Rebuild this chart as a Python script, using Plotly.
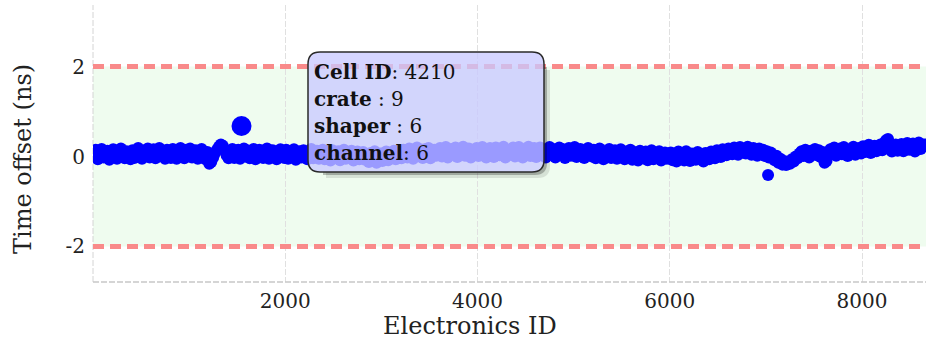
import plotly.graph_objects as go

# ---- data -------------------------------------------------------------
electronics_id = [
    10, 30, 50, 70, 90, 110, 130, 150, 170, 190, 210, 230, 250, 270, 290, 310, 330, 350, 370, 390,
    410, 430, 450, 470, 490, 510, 530, 550, 570, 590, 610, 630, 650, 670, 690, 710, 730, 750, 770, 790,
    810, 830, 850, 870, 890, 910, 930, 950, 970, 990, 1010, 1030, 1050, 1070, 1090, 1110, 1130, 1150, 1170, 1190,
    1210, 1230, 1250, 1270, 1290, 1310, 1330, 1350, 1370, 1390, 1410, 1430, 1450, 1470, 1490, 1510, 1530, 1550, 1570, 1590,
    1610, 1630, 1650, 1670, 1690, 1710, 1730, 1750, 1770, 1790, 1810, 1830, 1850, 1870, 1890, 1910, 1930, 1950, 1970, 1990,
    2010, 2030, 2050, 2070, 2090, 2110, 2130, 2150, 2170, 2190, 2210, 2230, 2250, 2270, 2290, 2310, 2330, 2350, 2370, 2390,
    2410, 2430, 2450, 2470, 2490, 2510, 2530, 2550, 2570, 2590, 2610, 2630, 2650, 2670, 2690, 2710, 2730, 2750, 2770, 2790,
    2810, 2830, 2850, 2870, 2890, 2910, 2930, 2950, 2970, 2990, 3010, 3030, 3050, 3070, 3090, 3110, 3130, 3150, 3170, 3190,
    3210, 3230, 3250, 3270, 3290, 3310, 3330, 3350, 3370, 3390, 3410, 3430, 3450, 3470, 3490, 3510, 3530, 3550, 3570, 3590,
    3610, 3630, 3650, 3670, 3690, 3710, 3730, 3750, 3770, 3790, 3810, 3830, 3850, 3870, 3890, 3910, 3930, 3950, 3970, 3990,
    4010, 4030, 4050, 4070, 4090, 4110, 4130, 4150, 4170, 4190, 4210, 4230, 4250, 4270, 4290, 4310, 4330, 4350, 4370, 4390,
    4410, 4430, 4450, 4470, 4490, 4510, 4530, 4550, 4570, 4590, 4610, 4630, 4650, 4670, 4690, 4710, 4730, 4750, 4770, 4790,
    4810, 4830, 4850, 4870, 4890, 4910, 4930, 4950, 4970, 4990, 5010, 5030, 5050, 5070, 5090, 5110, 5130, 5150, 5170, 5190,
    5210, 5230, 5250, 5270, 5290, 5310, 5330, 5350, 5370, 5390, 5410, 5430, 5450, 5470, 5490, 5510, 5530, 5550, 5570, 5590,
    5610, 5630, 5650, 5670, 5690, 5710, 5730, 5750, 5770, 5790, 5810, 5830, 5850, 5870, 5890, 5910, 5930, 5950, 5970, 5990,
    6010, 6030, 6050, 6070, 6090, 6110, 6130, 6150, 6170, 6190, 6210, 6230, 6250, 6270, 6290, 6310, 6330, 6350, 6370, 6390,
    6410, 6430, 6450, 6470, 6490, 6510, 6530, 6550, 6570, 6590, 6610, 6630, 6650, 6670, 6690, 6710, 6730, 6750, 6770, 6790,
    6810, 6830, 6850, 6870, 6890, 6910, 6930, 6950, 6970, 6990, 7010, 7030, 7050, 7070, 7090, 7110, 7130, 7150, 7170, 7190,
    7210, 7230, 7250, 7270, 7290, 7310, 7330, 7350, 7370, 7390, 7410, 7430, 7450, 7470, 7490, 7510, 7530, 7550, 7570, 7590,
    7610, 7630, 7650, 7670, 7690, 7710, 7730, 7750, 7770, 7790, 7810, 7830, 7850, 7870, 7890, 7910, 7930, 7950, 7970, 7990,
    8010, 8030, 8050, 8070, 8090, 8110, 8130, 8150, 8170, 8190, 8210, 8230, 8250, 8270, 8290, 8310, 8330, 8350, 8370, 8390,
    8410, 8430, 8450, 8470, 8490, 8510, 8530, 8550, 8570, 8590, 8610, 8630, 8650,
]
time_offset_ns = [
    0.02, 0.15, -0.06, 0.09, 0.17, -0.02, 0.06, 0.13, -0.07, 0.04, 0.16, 0.00, -0.05, 0.11, 0.18, 0.03, -0.04, 0.12, 0.07, -0.06,
    0.14, -0.03, 0.10, 0.19, 0.01, -0.05, 0.13, 0.07, 0.18, -0.02, 0.09, 0.16, -0.04, 0.05, 0.19, 0.02, 0.12, -0.05, 0.15, 0.06,
    -0.03, 0.17, 0.08, -0.05, 0.13, 0.19, 0.02, -0.04, 0.15, 0.09, 0.18, -0.02, 0.06, 0.14, -0.05, 0.11, 0.17, 0.01, -0.06, 0.10,
    -0.16, -0.12, -0.02, 0.08, 0.15, 0.22, 0.27, 0.24, 0.14, 0.03, -0.04, 0.12, 0.17, -0.03, 0.08, 0.15, -0.05, 0.10, 0.18, 0.00,
    0.13, -0.04, 0.08, 0.17, -0.06, 0.03, 0.15, 0.10, -0.03, 0.12, 0.18, -0.05, 0.06, 0.14, 0.00, -0.06, 0.11, 0.16, 0.02, -0.03,
    0.15, -0.05, 0.09, 0.01, 0.16, -0.07, 0.05, 0.12, -0.02, 0.14, 0.07, -0.06, 0.10, 0.17, -0.04, 0.03, 0.13, -0.05, 0.08, 0.15,
    -0.06, 0.11, 0.02, -0.09, 0.14, 0.06, -0.04, 0.12, -0.08, 0.03, 0.15, -0.05, 0.09, -0.02, 0.13, -0.09, 0.05, 0.11, -0.06, 0.08,
    0.10, -0.07, 0.04, -0.12, 0.08, -0.03, 0.12, -0.14, -0.06, 0.07, -0.10, 0.02, 0.11, -0.08, 0.05, -0.04, 0.13, -0.06, 0.09, 0.01,
    -0.04, 0.15, 0.06, -0.02, 0.18, 0.09, -0.05, 0.13, 0.20, 0.01, 0.11, -0.03, 0.16, 0.07, 0.19, -0.04, 0.10, 0.15, 0.02, 0.12,
    0.19, 0.00, 0.12, 0.21, -0.02, 0.08, 0.17, 0.04, 0.20, -0.01, 0.14, 0.09, 0.22, 0.02, 0.11, 0.18, -0.02, 0.13, 0.06, 0.19,
    0.01, 0.16, 0.21, 0.05, -0.02, 0.13, 0.19, 0.08, -0.01, 0.20, 0.11, 0.03, 0.17, 0.22, -0.02, 0.09, 0.15, 0.04, 0.20, 0.00,
    0.14, 0.21, 0.03, -0.02, 0.17, 0.10, 0.22, 0.01, 0.12, 0.19, -0.01, 0.08, 0.20, 0.05, 0.15, -0.02, 0.11, 0.21, 0.04, 0.16,
    -0.02, 0.12, 0.20, 0.04, 0.16, -0.03, 0.09, 0.19, 0.02, 0.14, 0.21, -0.01, 0.07, 0.17, 0.03, -0.03, 0.13, 0.19, 0.06, 0.00,
    0.15, -0.04, 0.09, 0.18, 0.01, -0.06, 0.12, 0.06, 0.17, -0.03, 0.03, 0.14, -0.05, 0.10, 0.16, 0.00, -0.06, 0.11, 0.07, 0.15,
    -0.07, 0.10, 0.03, -0.09, 0.13, 0.05, -0.04, 0.11, -0.08, 0.02, 0.14, -0.06, 0.07, -0.02, 0.12, -0.09, 0.04, 0.09, -0.05, 0.01,
    0.09, -0.08, 0.03, -0.11, 0.11, -0.04, 0.06, -0.09, 0.12, -0.02, -0.10, 0.07, 0.00, -0.07, 0.10, -0.05, 0.04, -0.11, 0.08, -0.01,
    -0.06, 0.11, 0.02, -0.04, 0.14, 0.06, -0.01, 0.16, 0.09, 0.03, 0.18, 0.10, 0.05, 0.20, 0.13, 0.04, 0.21, 0.09, 0.17, 0.07,
    0.22, 0.11, 0.04, 0.19, 0.13, 0.02, 0.18, 0.08, 0.15, 0.01, 0.12, -0.02, 0.09, 0.04, -0.08, 0.02, -0.14, -0.05, -0.18, -0.10,
    -0.19, -0.12, -0.16, -0.06, -0.11, 0.00, -0.04, 0.07, 0.12, 0.01, 0.15, 0.06, -0.02, 0.13, 0.09, 0.17, 0.03, 0.14, -0.01, 0.10,
    -0.14, -0.10, 0.03, 0.16, 0.08, 0.20, 0.02, 0.13, 0.18, 0.05, 0.21, 0.10, 0.01, 0.16, 0.09, 0.22, 0.04, 0.14, 0.19, 0.07,
    0.23, 0.10, 0.19, 0.26, 0.08, 0.16, 0.24, 0.12, 0.21, 0.27, 0.14, 0.30, 0.36, 0.39, 0.29, 0.11, 0.22, 0.27, 0.13, 0.20,
    0.28, 0.12, 0.24, 0.30, 0.15, 0.21, 0.29, 0.11, 0.25, 0.31, 0.17, 0.23, 0.27,
]
outlier_id = [7022]
outlier_offset = [-0.41]
selected_id = [1545]
selected_offset = [0.68]

tolerance_ns = [-2, 2]
x_ticks = [2000, 4000, 6000, 8000]
y_ticks = [-2, 0, 2]
y_tick_text = ["-2", "0", "2"]

info_keys = ["Cell ID", "crate", "shaper", "channel"]
info_seps = [": ", " : ", " : ", ": "]
info_vals = ["4210", "9", "6", "6"]

assert len(electronics_id) == len(time_offset_ns)

# ---- layout geometry (pixels) -----------------------------------------
W, H = 926, 339
PL, PR, PT, PB = 93, 926, 5, 282
FONT = "DejaVu Serif"


def px(x):
    return (x - PL) / (PR - PL)


def py(y):
    return (PB - y) / (PB - PT)


def rounded_rect(x0, y0, x1, y1, r):
    return (
        f"M {px(x0 + r)},{py(y0)} L {px(x1 - r)},{py(y0)} "
        f"Q {px(x1)},{py(y0)} {px(x1)},{py(y0 + r)} "
        f"L {px(x1)},{py(y1 - r)} Q {px(x1)},{py(y1)} {px(x1 - r)},{py(y1)} "
        f"L {px(x0 + r)},{py(y1)} Q {px(x0)},{py(y1)} {px(x0)},{py(y1 - r)} "
        f"L {px(x0)},{py(y0 + r)} Q {px(x0)},{py(y0)} {px(x0 + r)},{py(y0)} Z"
    )


def shadow_l(x0, y0, x1, y1, r, d):
    return (
        f"M {px(x1)},{py(y0 + r + d)} L {px(x1 + d)},{py(y0 + r + d)} "
        f"L {px(x1 + d)},{py(y1 + d - r)} "
        f"Q {px(x1 + d)},{py(y1 + d)} {px(x1 + d - r)},{py(y1 + d)} "
        f"L {px(x0 + r + d)},{py(y1 + d)} L {px(x0 + r + d)},{py(y1)} "
        f"L {px(x1 - r)},{py(y1)} Q {px(x1)},{py(y1)} {px(x1)},{py(y1 - r)} Z"
    )


fig = go.Figure()

fig.add_trace(go.Scatter(
    x=electronics_id, y=time_offset_ns, mode="markers",
    marker=dict(color="#0000ff", size=12, line=dict(width=0)),
    hoverinfo="skip", showlegend=False,
))
fig.add_trace(go.Scatter(
    x=outlier_id, y=outlier_offset, mode="markers",
    marker=dict(color="#0000ff", size=12, line=dict(width=0)),
    hoverinfo="skip", showlegend=False,
))
fig.add_trace(go.Scatter(
    x=selected_id, y=selected_offset, mode="markers",
    marker=dict(color="#0000ff", size=20, line=dict(width=0)),
    hoverinfo="skip", showlegend=False,
))

shapes = []
# tolerance band
shapes.append(dict(type="rect", xref="paper", yref="y", x0=0, x1=1,
                   y0=tolerance_ns[0], y1=tolerance_ns[1],
                   fillcolor="#effcef", line=dict(width=0), layer="below"))
# axis spines (dashed)
shapes.append(dict(type="line", xref="paper", yref="paper", x0=0, x1=0, y0=0, y1=1,
                   line=dict(color="#d4d4d4", width=1, dash="6px,2px"), layer="below"))
shapes.append(dict(type="line", xref="paper", yref="paper", x0=0, x1=1, y0=0, y1=0,
                   line=dict(color="#c8c8c8", width=1.5, dash="6px,2px"), layer="above"))
# tolerance limits
for lim in tolerance_ns:
    shapes.append(dict(type="line", xref="paper", yref="y", x0=0, x1=1, y0=lim, y1=lim,
                       line=dict(color="#f98a8a", width=5, dash="11px,6px"), layer="above"))

# info box with drop shadow
bx0, by0, bx1, by1, br = 308, 52, 544, 172, 12
shapes.append(dict(type="path", xref="paper", yref="paper",
                   path=shadow_l(bx0, by0, bx1, by1, br, 6),
                   fillcolor="rgba(0,0,0,0.10)", line=dict(width=0)))
shapes.append(dict(type="path", xref="paper", yref="paper",
                   path=shadow_l(bx0, by0, bx1, by1, br, 3),
                   fillcolor="rgba(0,0,0,0.25)", line=dict(width=0)))
shapes.append(dict(type="path", xref="paper", yref="paper",
                   path=rounded_rect(bx0, by0, bx1, by1, br),
                   fillcolor="rgba(200,200,255,0.77)",
                   line=dict(color="#2a2a2a", width=1.5)))

annotations = []
line_y = [72, 99, 126, 153]
for k, s, v, ly in zip(info_keys, info_seps, info_vals, line_y):
    annotations.append(dict(
        text=f"<b>{k}</b>{s}{v}", xref="paper", yref="paper",
        x=px(312), y=py(ly), xanchor="left", yanchor="middle",
        showarrow=False, font=dict(family=FONT, size=20, color="#111"),
    ))
annotations.append(dict(
    text="Time offset (ns)", xref="paper", yref="paper",
    x=px(23), y=py(159), xanchor="center", yanchor="middle", textangle=-90,
    showarrow=False, font=dict(family=FONT, size=24, color="#222"),
))
annotations.append(dict(
    text="Electronics ID", xref="paper", yref="paper",
    x=px(470), y=py(326), xanchor="center", yanchor="middle",
    showarrow=False, font=dict(family=FONT, size=24, color="#222"),
))

fig.update_layout(
    width=W, height=H,
    margin=dict(l=PL, r=W - PR, t=PT, b=H - PB, pad=0),
    paper_bgcolor="white", plot_bgcolor="white",
    showlegend=False,
    shapes=shapes, annotations=annotations,
    xaxis=dict(
        range=[0, 8665], tickvals=x_ticks, ticks="", showline=False,
        showgrid=True, gridcolor="#e0e0e0", griddash="6px,2px", gridwidth=1,
        zeroline=False, ticklabelstandoff=5,
        tickfont=dict(family=FONT, size=20, color="#222"),
    ),
    yaxis=dict(
        range=[-2.79, 3.37], tickvals=y_ticks, ticktext=y_tick_text, ticks="",
        showline=False, showgrid=False, zeroline=False, ticklabelstandoff=7,
        tickfont=dict(family=FONT, size=20, color="#222"),
    ),
)

fig.write_html("out.html")
